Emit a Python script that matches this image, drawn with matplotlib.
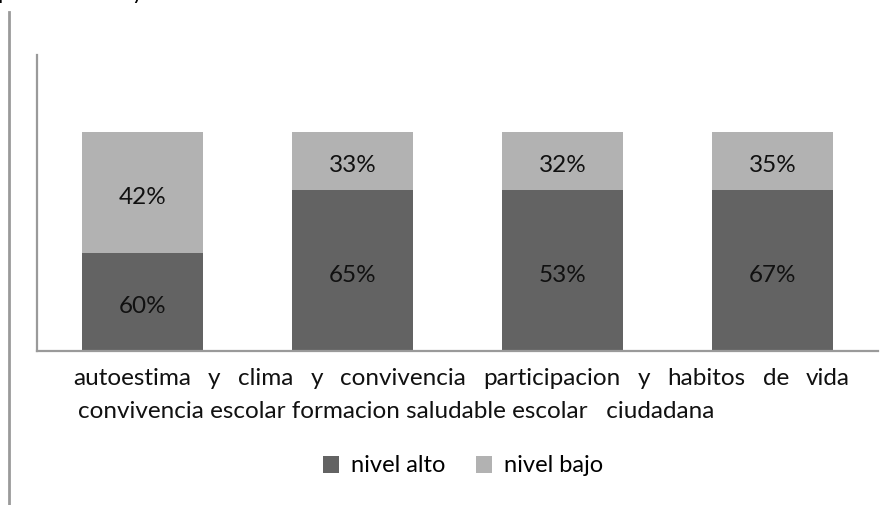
import numpy as np
import matplotlib.pyplot as plt
from matplotlib.lines import Line2D

plt.rcParams['font.family'] = ['Lato', 'DejaVu Sans']

# data (share of each bar, 100% stacked)
categorias = ["autoestima", "clima", "participacion", "habitos"]
alto = [44.7, 73.3, 73.3, 73.3]
bajo = [55.3, 26.7, 26.7, 26.7]
etiq_alto = ["60%", "65%", "53%", "67%"]
etiq_bajo = ["42%", "33%", "32%", "35%"]

# category text as it is laid out under the axis (two wrapped lines)
palabras1 = ["autoestima", "y", "clima", "y", "convivencia", "participacion", "y", "habitos", "de", "vida"]
linea2 = "convivencia escolar formacion saludable escolar   ciudadana"

c_alto = "#636363"
c_bajo = "#b2b2b2"
c_eje = "#9a9a9a"
fs = 17.5

fig = plt.figure(figsize=(8.95, 5.05), dpi=100)
ax = fig.add_axes([37/895, 1-351/505, 841/895, 296/505])

x = np.arange(len(categorias))
b1 = ax.bar(x, alto, width=0.576, color=c_alto, label="nivel alto", zorder=2)
b2 = ax.bar(x, bajo, bottom=alto, width=0.576, color=c_bajo, label="nivel bajo", zorder=2)

for i in range(len(x)):
    ax.annotate(etiq_alto[i], (x[i], alto[i]/2), xytext=(0, -3.5), textcoords="offset points",
                ha="center", va="center", fontsize=fs, color="#111111")
    ax.annotate(etiq_bajo[i], (x[i], alto[i] + bajo[i]/2), xytext=(0, -3.5), textcoords="offset points",
                ha="center", va="center", fontsize=fs, color="#111111")

ax.set_xlim(-0.5, 3.5)
ax.set_ylim(0, 135)
ax.set_xticks([])
ax.set_yticks([])
for s in ["top", "right"]:
    ax.spines[s].set_visible(False)
for s in ["left", "bottom"]:
    ax.spines[s].set_color(c_eje)
    ax.spines[s].set_linewidth(1.6)

# first line is justified between x=73 and x=850 px
textos = [fig.text(0, 1-385/505, p, ha="left", va="baseline", fontsize=fs, color="#111111")
          for p in palabras1]
r = fig.canvas.get_renderer()
anchos = [t.get_window_extent(r).width for t in textos]
hueco = (850 - 73 - sum(anchos)) / (len(anchos) - 1)
xp = 73
for t, w in zip(textos, anchos):
    t.set_x(xp/895)
    xp += w + hueco
fig.text(78/895, 1-418/505, linea2, ha="left", va="baseline", fontsize=fs, color="#111111")

ax.legend(handles=[b1, b2], loc="center", bbox_to_anchor=(463/895, 1-466/505),
          bbox_transform=fig.transFigure, ncol=2, frameon=False, fontsize=17,
          handlelength=0.7, handleheight=0.7, handletextpad=0.5, columnspacing=1.3)

# left border of the outer frame
fig.add_artist(Line2D([9/895, 9/895], [0, 1-12/505], transform=fig.transFigure,
                      color=c_eje, linewidth=2))

# bits of the title cut off at the top edge
fig.text(-3/895, 1+1/505, "p", ha="left", va="baseline", fontsize=16, color="black")
fig.text(132/895, 1+1/505, "y", ha="left", va="baseline", fontsize=16, color="black")

fig.savefig("out.png", dpi=100)
